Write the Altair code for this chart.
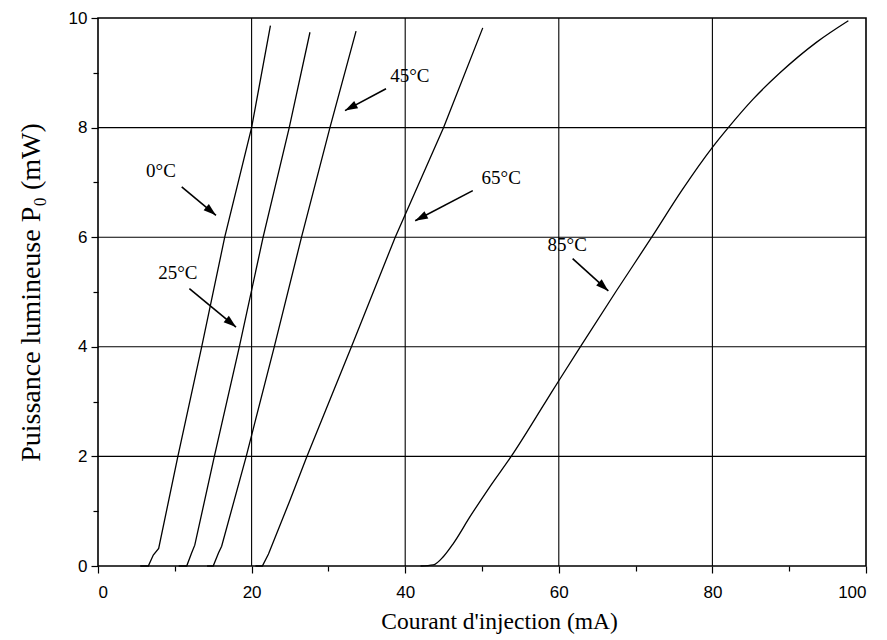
import math
import altair as alt
import pandas as pd

# ---- data ----
i_0C = [5.5, 6.55, 7.2, 7.9, 10.4, 13.5, 16.5, 20.0, 22.45]
p_0C = [0.0, 0.0, 0.2, 0.32, 2.0, 4.0, 6.0, 8.0, 9.86]

i_25C = [10.5, 11.55, 12.2, 12.6, 15.15, 18.4, 21.5, 24.9, 27.6]
p_25C = [0.0, 0.0, 0.24, 0.38, 2.0, 4.0, 6.0, 8.0, 9.74]

i_45C = [14.2, 15.0, 15.7, 16.1, 19.3, 22.95, 26.5, 30.2, 33.6]
p_45C = [0.0, 0.0, 0.24, 0.36, 2.0, 4.0, 6.0, 8.0, 9.76]

i_65C = [20.5, 21.4, 22.2, 25.0, 27.2, 33.0, 38.7, 45.0, 50.1]
p_65C = [0.0, 0.0, 0.22, 1.2, 2.0, 4.0, 6.0, 8.0, 9.82]

i_85C = [42.0, 43.66, 44.96, 46.26, 48.44, 51.04, 53.8, 58.3, 60.0,
         62.8, 67.4, 72.1, 76.0, 80.0, 82.07, 85.3, 88.8, 93.58, 97.7]
p_85C = [0.0, 0.02, 0.17, 0.41, 0.90, 1.45, 2.0, 3.0, 3.38,
         4.0, 5.0, 6.0, 6.85, 7.64, 8.0, 8.52, 9.0, 9.56, 9.95]

series_names = ["0°C", "25°C", "45°C", "65°C", "85°C"]
series_i = [i_0C, i_25C, i_45C, i_65C, i_85C]
series_p = [p_0C, p_25C, p_45C, p_65C, p_85C]

# annotations: label position and arrow (start -> tip), in data units
label_text = ["0°C", "25°C", "45°C", "65°C", "85°C"]
label_i = [8.2, 10.4, 40.6, 52.5, 61.1]
label_p = [7.2, 5.34, 8.95, 7.08, 5.85]
arrow_i0 = [10.9, 11.9, 37.5, 48.8, 61.8]
arrow_p0 = [6.92, 5.06, 8.71, 6.85, 5.61]
arrow_i1 = [15.36, 17.97, 32.16, 41.3, 66.45]
arrow_p1 = [6.40, 4.36, 8.31, 6.30, 5.02]

x_ticks = list(range(0, 101, 10))
y_ticks = list(range(0, 11, 1))
x_grid = [20, 40, 60, 80]
y_grid = [2, 4, 6, 8]

# ---- layout ----
W, H = 768, 548
X_DOM, Y_DOM = (0, 100), (0, 10)
sx = W / (X_DOM[1] - X_DOM[0])
sy = H / (Y_DOM[1] - Y_DOM[0])

rows = []
for name, xs, ys in zip(series_names, series_i, series_p):
    for k, (a, b) in enumerate(zip(xs, ys)):
        rows.append({"serie": name, "i": a, "p": b, "k": k})
curves = pd.DataFrame(rows)

ang = []
for a0, b0, a1, b1 in zip(arrow_i0, arrow_p0, arrow_i1, arrow_p1):
    dx = (a1 - a0) * sx
    dy = -(b1 - b0) * sy  # screen coords, downward positive
    ang.append(math.degrees(math.atan2(dx, -dy)) % 360)

ann = pd.DataFrame({
    "t": label_text, "li": label_i, "lp": label_p,
    "i0": arrow_i0, "p0": arrow_p0, "i1": arrow_i1, "p1": arrow_p1, "ang": ang,
})
gx = pd.DataFrame({"g": x_grid})
gy = pd.DataFrame({"g": y_grid})

xscale = alt.Scale(domain=list(X_DOM), nice=False, zero=False)
yscale = alt.Scale(domain=list(Y_DOM), nice=False, zero=False)

x_axis = alt.Axis(
    values=x_ticks, grid=False, domain=False,
    labelExpr="datum.value % 20 === 0 ? datum.label : ''",
    tickSize={"condition": {"test": "datum.value % 20 === 0", "value": 7}, "value": 5},
    tickColor="black", tickWidth=1.2,
    labelFont="Liberation Sans", labelFontSize=17, labelColor="black", labelPadding=11,
    title="Courant d'injection (mA)", titleFont="Liberation Serif", titleFontSize=23.5,
    titleFontWeight="normal", titleColor="black", titlePadding=9, titleX=W / 2 + 17,
)
y_axis = alt.Axis(
    values=y_ticks, grid=False, domain=False,
    labelExpr="datum.value % 2 === 0 ? datum.label : ''",
    tickSize={"condition": {"test": "datum.value % 2 === 0", "value": 7}, "value": 5},
    tickColor="black", tickWidth=1.2,
    labelFont="Liberation Sans", labelFontSize=17, labelColor="black", labelPadding=4,
    title="Puissance lumineuse P₀ (mW)", titleFont="Liberation Serif", titleFontSize=28,
    titleFontWeight="normal", titleColor="black", titlePadding=23,
)

grid_x = alt.Chart(gx).mark_rule(color="black", strokeWidth=1.1).encode(
    x=alt.X("g:Q", scale=xscale, axis=x_axis))
grid_y = alt.Chart(gy).mark_rule(color="black", strokeWidth=1.1).encode(
    y=alt.Y("g:Q", scale=yscale, axis=y_axis))

base_lines = alt.Chart(curves).encode(
    x=alt.X("i:Q", scale=xscale),
    y=alt.Y("p:Q", scale=yscale),
    detail="serie:N",
    order="k:Q",
)
lines_low = base_lines.mark_line(color="black", strokeWidth=1.3).transform_filter(
    alt.datum.serie != "85°C")
lines_hot = base_lines.mark_line(color="black", strokeWidth=1.3, interpolate="monotone").transform_filter(
    alt.datum.serie == "85°C")

arrows = alt.Chart(ann).mark_rule(color="black", strokeWidth=1.6).encode(
    x=alt.X("i0:Q", scale=xscale), y=alt.Y("p0:Q", scale=yscale),
    x2="i1:Q", y2="p1:Q",
)
heads = alt.Chart(ann).mark_point(
    shape="M0,0 L-0.65,2 L0.65,2 Z", filled=True, color="black", size=160, opacity=1,
).encode(
    x=alt.X("i1:Q", scale=xscale), y=alt.Y("p1:Q", scale=yscale),
    angle=alt.Angle("ang:Q", scale=None),
)
labels = alt.Chart(ann).mark_text(
    font="Liberation Serif", fontSize=19, color="black", align="center", baseline="middle",
).encode(
    x=alt.X("li:Q", scale=xscale), y=alt.Y("lp:Q", scale=yscale), text="t:N",
)

chart = alt.layer(grid_x, grid_y, lines_low, lines_hot, arrows, heads, labels).properties(
    width=W, height=H,
    autosize=alt.AutoSizeParams(type="none"),
    padding={"left": 90, "top": 10, "right": 13, "bottom": 74},
    background="white",
).configure_view(stroke="black", strokeWidth=1.6)

chart.save("out.html", embed_options={"renderer": "svg", "actions": False})
